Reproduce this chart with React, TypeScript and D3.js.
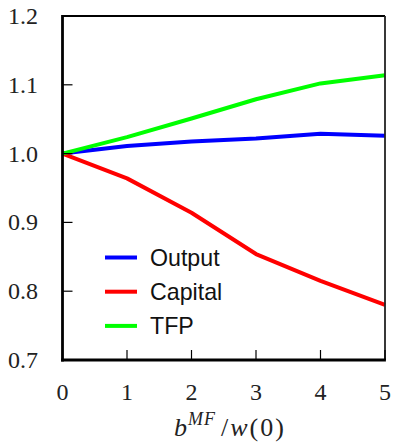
import React from "react";
import * as d3 from "d3";

const xValues = [0, 1, 2, 3, 4, 5];
const outputValues = [1.0, 1.011, 1.0175, 1.022, 1.029, 1.026];
const capitalValues = [1.0, 0.964, 0.914, 0.854, 0.815, 0.78];
const tfpValues = [1.0, 1.024, 1.051, 1.079, 1.102, 1.114];
const xTicks = [0, 1, 2, 3, 4, 5];
const yTicks = [0.7, 0.8, 0.9, 1.0, 1.1, 1.2];
const seriesNames = ["Output", "Capital", "TFP"];
const seriesColors = ["#0000ff", "#ff0000", "#00ff00"];

const W = 394;
const H = 442;
const left = 62.5;
const right = 385;
const top = 16;
const bottom = 360;

export default function App() {
  const x = d3.scaleLinear().domain([0, 5]).range([left, right]);
  const y = d3.scaleLinear().domain([0.7, 1.2]).range([bottom, top]);
  const series = [outputValues, capitalValues, tfpValues];
  const line = d3
    .line<number>()
    .x((_, i) => x(xValues[i]))
    .y((d) => y(d));

  const serif = "'Liberation Serif', 'Times New Roman', serif";
  const sans = "'Liberation Sans', Arial, Helvetica, sans-serif";

  return (
    <svg
      width={W}
      height={H}
      viewBox={`0 0 ${W} ${H}`}
      style={{ position: "absolute", left: 0, top: 0, background: "#fff" }}
    >
      <rect x={0} y={0} width={W} height={H} fill="#fff" />
      {series.map((s, i) => (
        <path
          key={i}
          d={line(s) || ""}
          fill="none"
          stroke={seriesColors[i]}
          strokeWidth={4}
          strokeLinejoin="round"
        />
      ))}
      {/* frame */}
      <line x1={left} x2={right} y1={top} y2={top} stroke="#000" strokeWidth={1.8} />
      <line x1={right} x2={right} y1={top} y2={bottom} stroke="#222" strokeWidth={1.8} />
      <line x1={left} x2={left} y1={top - 0.9} y2={bottom + 1.5} stroke="#000" strokeWidth={2.8} />
      <line x1={left - 1.4} x2={right + 0.9} y1={bottom} y2={bottom} stroke="#000" strokeWidth={2.8} />
      {/* y ticks */}
      {yTicks.map((t) => (
        <g key={"y" + t}>
          <line x1={left} x2={left + 10} y1={y(t)} y2={y(t)} stroke="#000" strokeWidth={1.2} />
          <text
            x={38}
            y={y(t) + 8}
            textAnchor="end"
            fontFamily={serif}
            fontSize={24}
            fill="#222"
          >
            {t.toFixed(1)}
          </text>
        </g>
      ))}
      {/* x ticks */}
      {xTicks.map((t) => (
        <g key={"x" + t}>
          <line x1={x(t)} x2={x(t)} y1={bottom} y2={bottom - 10} stroke="#000" strokeWidth={1.2} />
          <text
            x={x(t)}
            y={400}
            textAnchor="middle"
            fontFamily={serif}
            fontSize={24}
            fill="#222"
          >
            {t}
          </text>
        </g>
      ))}
      {/* x label */}
      <text x={174} y={436} fontFamily={serif} fontSize={26} fill="#222">
        <tspan fontStyle="italic">b</tspan>
        <tspan fontStyle="italic" fontSize={18} dy={-11} dx={1}>M</tspan>
        <tspan fontStyle="italic" fontSize={18} dx={1}>F</tspan>
        <tspan dy={11} dx={6}>/</tspan>
        <tspan fontStyle="italic" dx={2}>w</tspan>
        <tspan dx={2}>(</tspan>
        <tspan dx={2}>0</tspan>
        <tspan dx={2}>)</tspan>
      </text>
      {/* legend */}
      {seriesNames.map((name, i) => {
        const ly = 257.5 + i * 34.2;
        return (
          <g key={name}>
            <line x1={105} x2={137} y1={ly} y2={ly} stroke={seriesColors[i]} strokeWidth={4} />
            <text x={150} y={ly + 8} fontFamily={sans} fontSize={23.2} fill="#111">
              {name}
            </text>
          </g>
        );
      })}
    </svg>
  );
}
